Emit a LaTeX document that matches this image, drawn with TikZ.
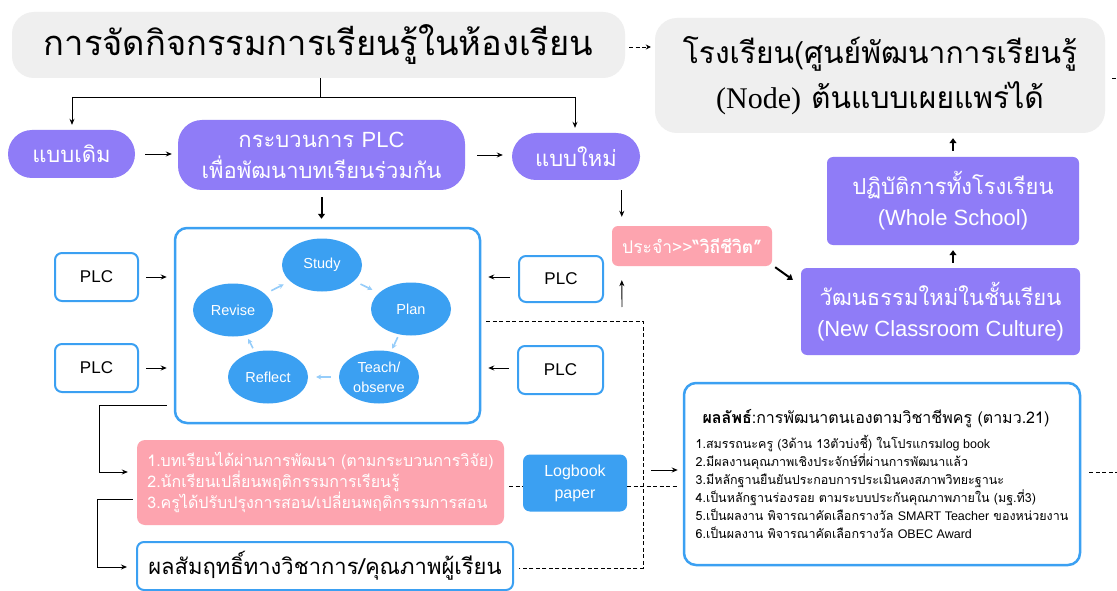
\documentclass[tikz,border=0pt]{standalone}
\usepackage{fontspec}
\setmainfont{Liberation Sans}
\newfontfamily\thai[Script=Thai]{Loma}
\newfontfamily\lsans{Liberation Sans}
\newfontfamily\lserif{Liberation Serif}
\usetikzlibrary{arrows.meta,shapes.geometric,calc}
\definecolor{purp}{RGB}{143,124,247}
\definecolor{pinkc}{RGB}{253,164,175}
\definecolor{bluec}{RGB}{59,160,242}
\definecolor{lblue}{RGB}{150,205,250}
\definecolor{grayc}{RGB}{239,239,239}
\tikzset{
  base/.style={rectangle, inner sep=0pt, align=center},
  gbox/.style={base, fill=grayc, rounded corners=22pt},
  pill/.style={base, fill=purp, text=white, rounded corners=24pt},
  pbox/.style={base, fill=purp, text=white, rounded corners=6pt},
  pinkbox/.style={base, fill=pinkc, text=white, rounded corners=8pt},
  bbox/.style={base, fill=bluec, text=white, rounded corners=7pt},
  wbox/.style={base, draw=bluec, line width=2pt, fill=white, rounded corners=7pt},
  ell/.style={ellipse, fill=bluec, text=white, inner sep=0pt, minimum width=80pt, minimum height=53pt, align=center, font=\lsans\fontsize{14.5}{20}\selectfont},
  arr/.style={line width=0.9pt, -{Stealth[length=6pt,width=5pt]}},
  tarr/.style={line width=2pt, -{Triangle[length=5pt,width=7pt]}},
  carr/.style={line width=1.6pt, draw=lblue, -{Stealth[length=5pt,width=5pt]}},
  dsh/.style={line width=0.9pt, dash pattern=on 4pt off 2.5pt},
  ln/.style={line width=0.9pt}
}
\begin{document}
\begin{tikzpicture}[x=1pt,y=-1pt]
\useasboundingbox (0,0) rectangle (1117,591);
\fill[white] (0,0) rectangle (1117,591);

% top boxes
\node[gbox, minimum width=613pt, minimum height=66pt, font=\thai\fontsize{34.5}{40}\selectfont] (title) at (318.5,45) {การจัดกิจกรรมการเรียนรู้ในห้องเรียน};
\node[gbox, minimum width=450pt, minimum height=115pt, font=\thai\fontsize{30}{45}\selectfont] (school) at (880,75.5) {โรงเรียน(ศูนย์พัฒนาการเรียนรู้\\{\lserif (Node)} ต้นแบบเผยแพร่ได้};

% purple row
\node[pill, minimum width=127pt, minimum height=48pt, font=\thai\fontsize{22}{26}\selectfont] (old) at (71.5,154) {แบบเดิม};
\node[pill, minimum width=287pt, minimum height=70pt, font=\thai\fontsize{22}{31}\selectfont] (plc) at (321.5,155) {กระบวนการ {\lsans PLC}\\เพื่อพัฒนาบทเรียนร่วมกัน};
\node[pill, minimum width=128pt, minimum height=47pt, font=\thai\fontsize{22}{26}\selectfont] (new) at (576,156.5) {แบบใหม่};

% cycle box
\node[base, draw=bluec, line width=2.5pt, rounded corners=12pt, minimum width=305pt, minimum height=195pt] (cycle) at (327.5,325.5) {};
\node[ell] (study) at (322,265) {Study};
\node[ell] (plan) at (411,309) {Plan};
\node[ell] (teach) at (379,377) {Teach/\\observe};
\node[ell] (reflect) at (268,377) {Reflect};
\node[ell] (revise) at (233,310) {Revise};
\draw[carr, shorten <=7pt, shorten >=7pt] (study) -- (plan);
\draw[carr, shorten <=3pt, shorten >=3pt] (plan) -- (teach);
\draw[carr, shorten <=8pt, shorten >=8pt] (teach) -- (reflect);
\draw[carr, shorten <=4pt, shorten >=4pt] (reflect) -- (revise);
\draw[carr, shorten <=7pt, shorten >=7pt] (revise) -- (study);

% PLC boxes
\node[wbox, minimum width=83pt, minimum height=48pt, font=\lsans\fontsize{17}{20}\selectfont] (plcL1) at (96.5,277) {PLC};
\node[wbox, minimum width=83pt, minimum height=48pt, font=\lsans\fontsize{17}{20}\selectfont] (plcL2) at (96.5,368) {PLC};
\node[wbox, minimum width=84pt, minimum height=46pt, font=\lsans\fontsize{17}{20}\selectfont] (plcR1) at (561,279) {PLC};
\node[wbox, minimum width=85pt, minimum height=48pt, font=\lsans\fontsize{17}{20}\selectfont] (plcR2) at (560.5,370) {PLC};

% right column
\node[pinkbox, minimum width=160pt, minimum height=40pt, rounded corners=6pt, font=\thai\fontsize{17.5}{20}\selectfont] (routine) at (692,246) {ประจำ>\kern0pt>{\bfseries “วิถีชีวิต”}};
\node[pbox, minimum width=279pt, minimum height=87pt, font=\lsans\fontsize{22}{31}\selectfont] (culture) at (940.5,311.5) {{\thai วัฒนธรรมใหม่ในชั้นเรียน}\\(New Classroom Culture)};
\node[pbox, minimum width=252pt, minimum height=88pt, font=\lsans\fontsize{22}{31}\selectfont] (whole) at (953,201) {{\thai ปฏิบัติการทั้งโรงเรียน}\\(Whole School)};

% results
\node[base, draw=bluec, line width=2.5pt, rounded corners=12pt, minimum width=396pt, minimum height=182pt, align=left, font=\thai\fontsize{12.5}{18}\selectfont] (results) at (882,474) {\hspace*{7pt}{\fontsize{16}{18}\selectfont{\bfseries ผลลัพธ์}:การพัฒนาตนเองตามวิชาชีพครู (ตามว.21)}\\[7pt]
1.สมรรถนะครู (3ด้าน 13ตัวบ่งชี้) ในโปรแกรม{\lsans log book}\\
2.มีผลงานคุณภาพเชิงประจักษ์ที่ผ่านการพัฒนาแล้ว\\
3.มีหลักฐานยืนยันประกอบการประเมินคงสภาพวิทยะฐานะ\\
4.เป็นหลักฐานร่องรอย ตามระบบประกันคุณภาพภายใน (มฐ.ที่3)\\
5.เป็นผลงาน พิจารณาคัดเลือกรางวัล {\lsans SMART Teacher} ของหน่วยงาน\\
6.เป็นผลงาน พิจารณาคัดเลือกรางวัล {\lsans OBEC Award}};

% bottom left
\node[pinkbox, minimum width=367pt, minimum height=85pt, align=left, font=\thai\fontsize{16}{21}\selectfont] (outcome) at (320.5,482.5) {1.บทเรียนได้ผ่านการพัฒนา (ตามกระบวนการวิจัย)\\2.นักเรียนเปลี่ยนพฤติกรรมการเรียนรู้\\3.ครูได้ปรับปรุงการสอน/เปลี่ยนพฤติกรรมการสอน};
\node[bbox, minimum width=104pt, minimum height=57pt, font=\lsans\fontsize{16}{22}\selectfont] (logbook) at (575,483) {Logbook\\paper};
\node[wbox, minimum width=376pt, minimum height=48pt, font=\thai\fontsize{22}{26}\selectfont] (achieve) at (325,566) {ผลสัมฤทธิ์ทางวิชาการ/คุณภาพผู้เรียน};

% connectors top
\draw[dsh, -{Stealth[length=5pt,width=5pt]}] ([xshift=4pt,yshift=-2pt]title.east) -- ([xshift=-4pt,yshift=-2pt]title.east -| school.west);
\coordinate (br) at (320,97);
\coordinate (bl) at (72,97);
\coordinate (brr) at (575,97);
\draw[ln] (title.south -| br) -- (br);
\draw[ln] (bl) -- (brr);
\draw[arr] (bl) -- ([yshift=5pt]old.north -| bl);
\draw[arr] (brr) -- ([yshift=5pt]new.north -| brr);
\draw[arr] ([xshift=10pt]old.east) -- ([xshift=-6pt]plc.west |- old.east);
\draw[arr] ([xshift=12pt]plc.east) -- ([xshift=-9pt]new.west |- plc.east);
\draw[tarr] ([yshift=-7pt]plc.south) -- ([yshift=8pt]plc.south |- cycle.north);

% PLC arrows
\draw[arr] ([xshift=7pt]plcL1.east) -- ([xshift=-7pt]cycle.west |- plcL1.east);
\draw[arr] ([xshift=7pt]plcL2.east) -- ([xshift=-7pt]cycle.west |- plcL2.east);
\draw[arr] ([xshift=-8pt,yshift=2pt]plcR1.west) -- ([xshift=7pt,yshift=2pt]cycle.east |- plcR1.west);
\draw[arr] ([xshift=-8pt,yshift=2pt]plcR2.west) -- ([xshift=7pt,yshift=2pt]cycle.east |- plcR2.west);

% right column arrows
\draw[arr] ([xshift=10pt,yshift=-10pt]routine.north west |- new.south) -- ([xshift=10pt,yshift=9pt]routine.north west);
\coordinate (u0) at (622,307);
\draw[arr] (u0) -- ([xshift=10pt,yshift=-14pt]routine.south west);
\draw[tarr] ([xshift=3pt,yshift=-1pt]routine.south east) -- ([xshift=-8pt,yshift=-12pt]culture.north west);
\draw[tarr] ([yshift=5pt]culture.north -| whole.south) -- ([yshift=-5pt]whole.south);
\draw[tarr] ([yshift=6pt]whole.north) -- ([yshift=-5pt]whole.north |- school.south);

% left brackets
\coordinate (c1) at (99,405);
\coordinate (c2) at (99,472);
\draw[arr] ([xshift=-7pt]cycle.west |- c1) -- (c1) -- (c2) -- ([xshift=-9pt]outcome.west |- c2);
\coordinate (d1) at (97,499);
\coordinate (d2) at (97,567);
\draw[arr] ([xshift=-4pt]outcome.west |- d1) -- (d1) -- (d2) -- ([xshift=-9pt]achieve.west |- d2);

% dashed links
\coordinate (e1) at (643,321);
\coordinate (e2) at (643,568);
\draw[dsh] ([xshift=5pt]cycle.east |- e1) -- (e1) -- (e2) -- ([xshift=5pt]achieve.east |- e2);
\coordinate (f1) at (0,486);
\draw[dsh] ([xshift=5pt]outcome.east |- f1) -- (logbook.west |- f1);
\draw[dsh] (logbook.east |- f1) -- ([xshift=-4pt]results.west |- f1);
\coordinate (g0) at (651,470);
\draw[arr] (g0) -- ([xshift=-5pt]results.west |- g0);
\coordinate (h1) at (1117,472);
\draw[dsh] ([xshift=8pt]results.east |- h1) -- (h1);
\coordinate (k1) at (1117,78);
\draw[dsh] ([xshift=7pt]school.east |- k1) -- (k1);
\end{tikzpicture}
\end{document}
